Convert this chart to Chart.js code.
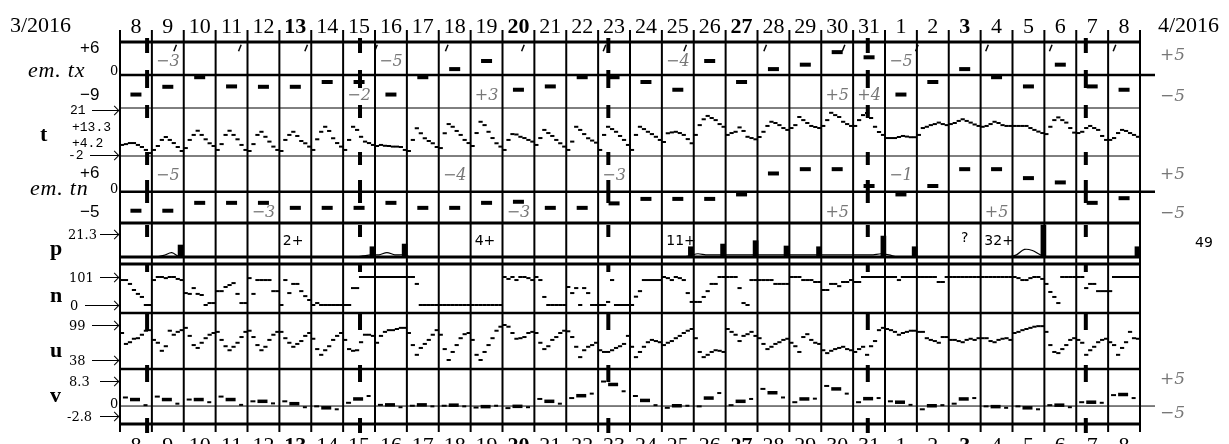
<!DOCTYPE html>
<html>
<head>
<meta charset="utf-8">
<script src="https://cdn.jsdelivr.net/npm/chart.js@4.4.1/dist/chart.umd.min.js"></script>
<style>
  body { margin: 0; background: #fff; }
  #wrap { position: relative; width: 1229px; height: 444px; overflow: hidden; background: #fff; }
  #wrap canvas { position: absolute; left: 0; }
  .lbl { position: absolute; white-space: nowrap; line-height: 1; color: #000; transform: translateY(-50%); }
  .serifL { font: 22px "Liberation Serif", serif; }
  .ital { font: italic 22px "Liberation Serif", serif; letter-spacing: 0.8px; }
  .bold { font: bold 22px "Liberation Serif", serif; }
  .sans { font: 17px "Liberation Sans", sans-serif; }
  .mono { font: 13px "Liberation Mono", monospace; }
  .sm { font: 13px "DejaVu Serif", serif; }
  .gray { font: italic 17px "DejaVu Serif", serif; color: #777; }
  .mono13 { font: 14px "DejaVu Sans", sans-serif; }
  .arrow { position: absolute; height: 1px; background: #000; }
  .arrow::after { content: ''; position: absolute; right: 0; top: -3px; width: 6px; height: 6px;
    border-top: 1px solid #000; border-right: 1px solid #000; transform: rotate(45deg); }
</style>
</head>
<body>
<div id="wrap"></div>
<script>
// days from 8 March to 8 April 2016
const dayLabels = ['8','9','10','11','12','13','14','15','16','17','18','19','20','21','22','23',
  '24','25','26','27','28','29','30','31','1','2','3','4','5','6','7','8'];
const sundayIdx = [5, 12, 19, 26];
const moonDays = [0.85, 7.53, 15.32, 23.46, 30.3];
const slashDays = [1.73, 3.76, 5.84, 8.03, 10.25, 12.64, 15.2, 17.73, 20.24, 22.7, 25.0, 27.2, 29.2, 31.2];

const emTx = [-5.3,-3.2,-0.6,-3.1,-3.2,-3.2,-1.9,-1.9,-5.3,-0.6,1.6,3.8,-4.0,-3.1,-0.6,-0.6,
  -1.9,-4.0,3.8,-1.9,1.6,2.8,6.2,4.8,-5.3,-1.9,1.6,-0.6,-3.1,2.8,-3.1,-4.0];
const txNoteDays = [1, 7, 8, 11, 17, 22, 23, 24];
const txNoteText = ['−3','−2','−5','+3','−4','+5','+4','−5'];
const txNoteTop = [true, false, true, false, true, false, false, true];

const emTn = [-5.3,-5.3,-3.1,-3.1,-3.1,-4.5,-4.5,-4.5,-3.1,-4.5,-4.5,-3.1,-2.8,-4.5,-4.5,-3.25,
  -2.0,-2.0,-2.0,-0.75,5.1,6.3,6.3,1.6,-0.75,1.6,6.3,6.3,3.8,2.6,-3.1,-1.8];
const tnNoteDays = [1, 4, 10, 12, 15, 22, 24, 27];
const tnNoteText = ['−5','−3','−4','−3','−3','+5','−1','+5'];
const tnNoteTop = [true, false, true, false, true, false, true, false];

// temperature, 8 readings a day
const temp = [
  [3.3,3.7,4.2,4.2,3.3,2.3,0.9,-0.6],[0.9,2.8,5.7,7.1,5.7,4.2,2.3,0.4],
  [1.8,5.7,8.1,10.1,8.1,6.0,4.1,2.8],[0.9,3.7,8.1,10.1,8.1,6.0,3.3,0.9],
  [0.4,3.7,8.1,9.6,7.2,4.9,2.5,0.9],[0.4,5.7,8.1,9.6,7.6,5.2,4.1,2.5],
  [0.9,6.0,9.6,12.0,10.0,6.5,4.2,2.5],[0.9,5.7,12.0,10.5,7.2,4.9,4.2,3.3],
  [2.8,3.3,2.9,2.8,2.5,2.5,2.3,0.9],[0.4,5.7,11.3,8.9,6.5,5.2,4.1,2.3],
  [1.8,8.9,13.3,12.0,10.0,8.1,5.7,4.2],[2.8,9.0,14.4,12.8,9.6,6.6,4.1,2.5],
  [0.9,5.7,8.5,8.3,7.2,6.6,5.7,4.9],[3.3,6.6,10.5,9.0,7.6,5.7,4.1,2.5],
  [0.9,4.9,12.0,10.5,8.5,6.5,5.4,4.4],[0.9,8.1,12.0,10.9,9.6,7.6,5.7,3.3],
  [0.9,8.1,12.0,10.9,9.6,8.5,7.2,5.7],[4.7,8.9,9.3,9.6,9.0,8.1,6.1,4.1],
  [8.1,12.8,15.6,17.2,16.2,15.2,13.3,12.0],[8.1,9.0,9.6,11.7,10.0,7.2,6.6,6.0],
  [7.1,9.6,12.4,14.4,13.8,12.8,11.4,10.5],[11.4,12.8,16.7,15.2,13.8,12.4,11.9,11.4],
  [12.4,15.2,18.7,17.6,16.7,14.4,13.3,12.4],[12.4,15.2,17.6,18.6,16.2,12.0,9.5,8.1],
  [6.6,6.6,6.6,7.1,7.6,7.3,7.0,7.0],[8.1,11.4,12.0,12.8,13.3,14.0,13.3,12.8],
  [13.3,13.8,14.8,15.6,14.8,14.0,13.1,12.4],[12.0,12.4,13.3,14.4,13.8,12.8,12.4,12.4],
  [12.4,12.4,12.4,12.4,11.4,10.5,9.7,9.0],[8.5,12.0,15.2,16.5,15.2,14.0,11.4,9.2],
  [9.0,9.6,11.4,12.4,11.4,10.5,7.6,5.7],[5.7,6.6,9.0,10.5,10.0,9.0,8.1,7.2]
];

// precipitation
const pBarDays = [1.9, 7.92, 8.93, 17.91, 18.92, 19.94, 20.91, 21.93, 23.95, 24.93, 28.97, 31.92];
const pBarVals = [11.1, 9.5, 12, 9.5, 12, 15.1, 10.2, 9.5, 19.4, 9.5, 29.6, 9.5];
const pLine = [
  [0,0,0,0],[0,1.5,4,0],[0,0,0,0],[0,0,0,0],[0,0,0,0],[0,0,0,0],[0,0,0,0],[0,0,1,2],
  [2,4,2,2],[0,0,0,0],[0,0,0,0],[0,0,0,0],[0,0,0,0],[0,0,0,0],[0,0,0,0],[0,0,0,0],
  [0,0,0,0],[0,0,0,1],[3,2,2,2],[2,2,2,2],[2,2,2,2],[2,2,2,2],[2,2,2,2],[2,2,2,3],
  [2,0,0,0],[0,0,0,0],[0,0,0,0],[0,0,0,0],[2,7,6,2],[0,0,0,0],[0,0,0,0],[0,0,0,0]
];
const pNoteDays = [5.43, 11.45, 17.6, 26.5, 27.58];
const pNoteText = ['2+', '4+', '11+', '?', '32+'];

// n, 8 readings a day
const nVals = [
  [90,90,76,54,40,29,0,0],[90,101,101,97,101,101,94,90],[43,40,61,40,36,0,7,7],
  [50,50,65,72,79,40,7,7],[97,40,90,90,90,90,50,50],[0,90,43,76,76,50,32,18],
  [0,7,0,0,0,0,0,0],[0,0,61,61,101,101,101,101],[101,101,101,101,101,101,101,101],
  [101,101,76,0,0,0,0,0],[0,0,0,0,0,0,0,0],[0,0,0,0,0,0,0,0],
  [101,94,101,90,101,101,97,90],[101,90,29,0,0,0,0,0],[65,43,61,0,61,43,0,0],
  [0,0,11,90,0,0,0,0],[0,30,50,90,90,90,90,90],[101,97,90,101,97,90,43,11],
  [11,11,29,50,76,76,101,101],[101,101,101,61,7,0,90,90],[90,90,90,90,76,76,76,76],
  [101,101,101,90,90,90,83,83],[54,54,76,76,68,83,83,90],[83,83,101,101,101,101,101,101],
  [101,101,101,90,101,101,101,101],[101,101,101,101,101,83,83,101],
  [101,101,101,101,101,101,101,101],[101,101,101,101,101,101,101,101],
  [101,97,90,90,97,101,101,94],[76,47,29,7,101,101,101,101],[101,101,61,76,76,50,50,50],
  [50,101,101,101,101,101,101,101]
];

// u, 8 readings a day
const uVals = [
  [85,66,69,75,76,82,89,90],[73,68,54,62,89,82,87,90],[94,80,64,59,68,76,82,85],
  [87,73,62,55,61,68,78,87],[89,78,64,55,61,73,82,87],[87,76,68,61,66,71,80,85],
  [75,57,47,55,62,73,80,85],[73,57,54,55,69,82,82,80],[68,80,87,90,90,92,94,94],
  [85,64,47,59,66,73,82,90],[82,57,38,52,64,76,83,85],[73,47,38,52,64,76,89,96],
  [99,96,85,75,76,78,85,87],[85,68,57,62,73,78,85,89],[88,78,61,43,55,61,64,68],
  [55,52,52,55,59,62,66,80],[61,43,52,61,69,73,71,69],[64,68,71,76,80,85,89,92],
  [76,52,43,47,52,55,54,52],[92,87,82,71,80,83,87,80],[76,66,57,61,66,69,73,75],
  [68,62,52,78,83,73,68,66],[55,50,54,57,59,61,57,55],[52,57,61,47,62,71,90,94],
  [92,90,87,82,85,87,89,89],[87,87,76,73,71,68,78,78],[73,73,71,69,73,75,73,76],
  [76,76,71,69,73,75,76,73],[85,87,90,92,94,96,97,97],[87,64,52,50,57,64,73,76],
  [73,68,47,55,61,69,73,75],[69,64,47,59,69,87,76,75]
];

// v: early, midday, late
const vEarly = [2.9,3.2,2.2,3.2,1.6,1.6,-0.1,1.1,0.4,0.1,0.1,-0.5,-0.7,2.4,2.7,8.3,
  3.4,-0.6,-0.1,0.3,5.8,1.3,6.8,1.3,1.6,-1.1,0.8,-0.1,-0.1,0.3,1.3,3.7];
const vMid = [2.2,2.2,2.2,2.2,1.6,0.8,-0.6,2.4,0.4,0.4,0.3,-0.2,-0.1,1.6,3.5,7.3,
  1.9,0.1,2.7,1.6,4.5,2.4,5.8,2.5,1.3,0.1,2.4,-0.2,-0.6,0.3,1.3,3.9];
const vLate = [0.3,0.8,1.3,0.4,0.9,-0.4,-1.1,3.4,-0.4,-0.1,-0.1,0.1,-0.4,0.8,4.2,5.0,
  0.3,0.1,4.4,2.4,2.9,2.5,4.2,2.7,0.4,0.3,2.7,-0.6,-1.1,-0.4,1.1,2.7];

const W = 1229, H = 444;
const PAD_L = 120, PAD_R = 89;
const wrap = document.getElementById('wrap');
const nDays = dayLabels.length;

const hLines = [[42,3],[108,1],[156,1],[223,3],[257,3],[264,3],[313,2.5],[369,2.5],[424,3]];
const moonDash = [15,17,18,17,13,34,13,15,23,22,12,26,9,40,18,35,17,36,15];

function line(ctx, x0, y0, x1, y1, w) {
    ctx.beginPath();
    ctx.lineWidth = w;
    ctx.moveTo(x0, y0);
    ctx.lineTo(x1, y1);
    ctx.stroke();
}

function baseOptions(yMin, yMax, padT, padB) {
    return {
        responsive: false,
        animation: false,
        events: [],
        layout: { padding: { left: PAD_L, right: PAD_R, top: padT, bottom: padB } },
        scales: {
            x: { type: 'linear', min: 0, max: nDays, offset: false, grid: { offset: false }, display: false },
            y: { type: 'linear', min: yMin, max: yMax, display: false }
        },
        plugins: { legend: { display: false }, tooltip: { enabled: false } }
    };
}

function addCanvas(top, height) {
    const c = document.createElement('canvas');
    c.width = W;
    c.height = height;
    c.style.top = top + 'px';
    wrap.appendChild(c);
    return c;
}

// frame: day grid, labels, panel borders, moon lines
const framePlugin = {
    id: 'frame',
    afterDraw(chart) {
        const ctx = chart.ctx;
        const xs = chart.scales.x;
        ctx.save();
        ctx.strokeStyle = '#000';
        for (let i = 0; i <= nDays; i++) {
            const x = xs.getPixelForValue(i);
            line(ctx, x, 30, x, 432, 2);
        }
        hLines.forEach(([y, w]) => line(ctx, xs.left - 1, y, xs.right + 1, y, w));
        ctx.setLineDash(moonDash);
        moonDays.forEach(d => {
            const x = xs.getPixelForValue(d);
            line(ctx, x, 38, x, 433, 4);
        });
        ctx.setLineDash([]);
        ctx.fillStyle = '#000';
        ctx.textAlign = 'center';
        ctx.textBaseline = 'alphabetic';
        dayLabels.forEach((lab, i) => {
            ctx.font = (sundayIdx.includes(i) ? 'bold ' : '') + '22px "Liberation Serif"';
            const x = xs.getPixelForValue(i + 0.5);
            ctx.fillText(lab, x, 33);
            ctx.fillText(lab, x, 452);
        });
        ctx.restore();
    }
};

new Chart(addCanvas(0, H), {
    type: 'scatter',
    data: { datasets: [] },
    options: baseOptions(0, 1, 0, 0),
    plugins: [framePlugin]
});

function notesPlugin(days, texts, tops, zeroExt, zeroW) {
    return {
        id: 'notes',
        beforeDatasetsDraw(chart) {
            const ctx = chart.ctx, xs = chart.scales.x, ys = chart.scales.y;
            ctx.save();
            ctx.strokeStyle = '#000';
            if (zeroW) {
                const y0 = ys.getPixelForValue(0);
                line(ctx, xs.left, y0, xs.right + zeroExt, y0, zeroW);
            }
            if (days) {
                const y0 = ys.getPixelForValue(0);
                ctx.fillStyle = '#777';
                ctx.font = 'italic 16px "DejaVu Serif"';
                ctx.textAlign = 'center';
                ctx.textBaseline = 'middle';
                days.forEach((d, i) => {
                    const y = tops[i] ? chart.chartArea.top + 16 : y0 + 21;
                    ctx.fillText(texts[i], xs.getPixelForValue(d + 0.5), y);
                });
            }
            ctx.restore();
        }
    };
}

function panel(top, bottom, yMin, yMax, datasets, plugin) {
    const pad = 6;
    const c = addCanvas(top - pad, bottom - top + 2 * pad);
    return new Chart(c, {
        type: 'scatter',
        data: { datasets },
        options: baseOptions(yMin, yMax, pad, pad),
        plugins: plugin ? [plugin] : []
    });
}

const dayPts = (vals, off) => vals.map((v, d) => ({ x: d + off, y: v }));
const subPts = (arr, per) => arr.flatMap((vals, d) => vals.map((v, k) => ({ x: d + (k + 0.5) / per, y: v })));

function dashSet(data, r, w, extra) {
    return Object.assign({
        data, showLine: false, clip: false,
        pointStyle: 'line', pointRadius: r, pointHoverRadius: r,
        pointBorderWidth: w, pointBorderColor: '#000', pointBackgroundColor: '#000'
    }, extra || {});
}

// em.tx
panel(42, 108, -8, 8, [
    dashSet(dayPts(emTx, 0.5), 5.5, 4),
    dashSet(slashDays.map(d => ({ x: d, y: 7.3 })), 3.5, 1.5, { pointRotation: -68 })
], notesPlugin(txNoteDays, txNoteText, txNoteTop, 15, 2.5));

// t
panel(108, 156, -2, 21, [dashSet(subPts(temp, 8), 2.1, 2)]);

// em.tn
panel(156, 223, -7.75, 9, [dashSet(dayPts(emTn, 0.5), 5.5, 4)],
    notesPlugin(tnNoteDays, tnNoteText, tnNoteTop, 15, 2.5));

// p
panel(223, 257, 0, 31.5, [
    {
        type: 'bar',
        data: pBarDays.map((d, i) => ({ x: d, y: pBarVals[i] })),
        backgroundColor: '#000',
        barThickness: 5,
        grouped: false
    },
    {
        type: 'line',
        data: subPts(pLine, 4),
        borderColor: '#000',
        borderWidth: 1.2,
        pointRadius: 0,
        tension: 0.3,
        clip: false
    }
], {
    id: 'pnotes',
    afterDatasetsDraw(chart) {
        const ctx = chart.ctx, xs = chart.scales.x;
        ctx.save();
        ctx.fillStyle = '#000';
        ctx.font = '14px "DejaVu Sans"';
        ctx.textAlign = 'center';
        ctx.textBaseline = 'middle';
        pNoteDays.forEach((d, i) => {
            ctx.fillText(pNoteText[i], xs.getPixelForValue(d), chart.chartArea.top + (pNoteText[i] === '?' ? 15 : 18));
        });
        ctx.restore();
    }
});

// n
panel(264, 313, -28.9, 147.9, [dashSet(subPts(nVals, 8), 2.1, 2)]);

// u
panel(313, 369, 22.3, 119.9, [dashSet(subPts(uVals, 8), 2.1, 2)]);

// v
panel(369, 424, -5.23, 11.69, [
    dashSet(dayPts(vEarly, 0.17), 2.5, 2),
    dashSet(dayPts(vMid, 0.47), 5, 3.5),
    dashSet(dayPts(vLate, 0.8), 2, 2)
], notesPlugin(null, null, null, 15, 1));

// side labels
function lbl(text, x, y, cls) {
    const e = document.createElement('div');
    e.className = 'lbl ' + cls;
    e.textContent = text;
    e.style.left = x + 'px';
    e.style.top = y + 'px';
    wrap.appendChild(e);
}
function arrow(x0, x1, y) {
    const a = document.createElement('div');
    a.className = 'arrow';
    a.style.left = x0 + 'px';
    a.style.width = (x1 - x0) + 'px';
    a.style.top = y + 'px';
    wrap.appendChild(a);
}

lbl('3/2016', 10, 25, 'serifL');
lbl('4/2016', 1158, 25, 'serifL');

lbl('+6', 80, 48, 'sans');
lbl('em. tx', 28, 70, 'ital');
lbl('0', 110, 70, 'sm');
lbl('−9', 80, 95, 'sans');

lbl('21', 70, 110, 'mono'); arrow(92, 118, 110);
lbl('t', 40, 134, 'bold');
lbl('+13.3', 72, 127, 'mono');
lbl('+4.2', 72, 143, 'mono');
lbl('-2', 68, 155, 'mono'); arrow(90, 118, 155);

lbl('+6', 80, 173, 'sans');
lbl('em. tn', 30, 188, 'ital');
lbl('0', 110, 188, 'sm');
lbl('−5', 80, 212, 'sans');

lbl('21.3', 68, 234, 'sm'); arrow(100, 118, 234);
lbl('p', 50, 248, 'bold');
lbl('101', 69, 277, 'sm'); arrow(100, 118, 277);
lbl('n', 50, 295, 'bold');
lbl('0', 70, 305, 'sm'); arrow(85, 118, 305);
lbl('99', 69, 325, 'sm'); arrow(92, 118, 325);
lbl('u', 50, 350, 'bold');
lbl('38', 69, 360, 'sm'); arrow(92, 118, 360);
lbl('8.3', 69, 381, 'sm'); arrow(100, 118, 381);
lbl('v', 50, 395, 'bold');
lbl('0', 110, 403, 'sm');
lbl('-2.8', 67, 416, 'sm'); arrow(100, 118, 416);

lbl('+5', 1160, 54, 'gray'); lbl('−5', 1160, 95, 'gray');
lbl('+5', 1160, 173, 'gray'); lbl('−5', 1160, 212, 'gray');
lbl('49', 1195, 242, 'mono13');
lbl('+5', 1160, 378, 'gray'); lbl('−5', 1160, 412, 'gray');
</script>
</body>
</html>
